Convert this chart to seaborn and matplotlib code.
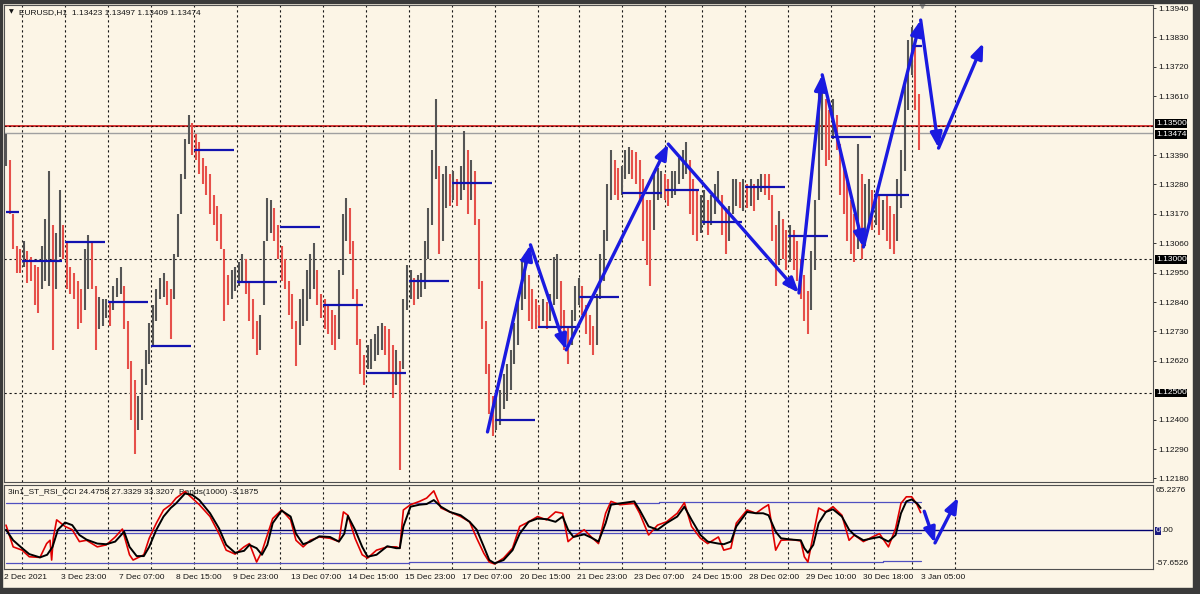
import matplotlib
matplotlib.use("Agg")
import matplotlib.pyplot as plt
from matplotlib.patches import Rectangle
import numpy as np
import seaborn as sns

# ---- price bars (2-hour bars), high / low in pips above BASE ----
BASE = 1.12
hi_pips = [147, 137, 117, 105, 104, 107, 103, 101, 98, 97, 105, 115,
           133, 113, 110, 126, 113, 106, 97, 95, 92, 89, 104, 109,
           107, 90, 86, 85, 85, 84, 90, 93, 97, 90, 77, 62,
           55, 49, 59, 66, 76, 83, 89, 93, 95, 92, 89, 102,
           117, 132, 145, 154, 151, 147, 144, 138, 135, 132, 124, 120,
           117, 104, 94, 96, 97, 99, 102, 100, 92, 85, 77, 79,
           107, 123, 122, 119, 113, 105, 100, 92, 87, 77, 85, 89,
           96, 102, 106, 96, 87, 85, 83, 81, 79, 96, 117, 123,
           119, 107, 89, 70, 64, 68, 70, 72, 75, 76, 75, 74,
           68, 66, 62, 85, 98, 96, 93, 94, 95, 107, 119, 141,
           160, 135, 132, 135, 132, 133, 130, 135, 148, 141, 137, 133,
           115, 92, 77, 61, 49, 49, 51, 57, 61, 66, 76, 85,
           100, 102, 94, 89, 85, 83, 85, 84, 87, 101, 102, 92,
           81, 75, 81, 90, 93, 90, 83, 79, 75, 87, 102, 111,
           128, 141, 137, 134, 135, 141, 142, 141, 140, 137, 130, 122,
           122, 132, 134, 133, 132, 130, 133, 133, 138, 141, 144, 137,
           130, 126, 124, 126, 122, 124, 128, 133, 124, 119, 120, 130,
           130, 129, 130, 128, 130, 128, 130, 132, 132, 132, 124, 113,
           118, 115, 111, 113, 111, 107, 100, 94, 88, 103, 122, 163,
           168, 160, 156, 160, 154, 143, 135, 130, 122, 117, 143, 132,
           128, 130, 126, 124, 124, 122, 124, 120, 117, 130, 141, 167,
           182, 187, 180, 162]
lo_pips = [135, 117, 104, 95, 95, 97, 91, 92, 83, 80, 89, 92,
           90, 66, 89, 101, 100, 89, 87, 85, 74, 76, 81, 89,
           89, 66, 74, 75, 78, 75, 81, 86, 87, 74, 59, 40,
           27, 36, 40, 53, 61, 68, 77, 85, 86, 83, 70, 85,
           101, 117, 130, 143, 139, 137, 132, 128, 124, 117, 113, 107,
           104, 77, 83, 85, 88, 90, 92, 87, 77, 70, 64, 66,
           83, 107, 110, 107, 100, 92, 89, 79, 74, 60, 68, 75,
           77, 85, 89, 83, 78, 74, 72, 68, 66, 70, 94, 107,
           102, 85, 68, 57, 53, 59, 59, 62, 64, 66, 64, 57,
           48, 53, 21, 59, 81, 85, 83, 85, 86, 89, 100, 113,
           130, 102, 107, 119, 120, 122, 120, 122, 126, 117, 122, 113,
           89, 74, 57, 42, 34, 36, 38, 44, 47, 51, 61, 68,
           81, 85, 77, 74, 74, 75, 77, 74, 77, 83, 85, 74,
           66, 61, 68, 77, 83, 79, 72, 68, 64, 68, 85, 92,
           107, 122, 124, 122, 124, 130, 132, 130, 128, 122, 107, 98,
           90, 111, 122, 123, 122, 120, 123, 124, 128, 130, 132, 117,
           109, 107, 110, 113, 109, 113, 117, 122, 109, 102, 107, 117,
           120, 119, 118, 119, 120, 118, 122, 125, 124, 122, 107, 90,
           98, 100, 96, 99, 96, 92, 85, 77, 72, 81, 96, 122,
           141, 135, 137, 145, 141, 124, 117, 107, 102, 99, 104, 100,
           105, 113, 111, 113, 109, 111, 107, 104, 102, 107, 119, 133,
           156, 169, 156, 141]

# day separators (hour index) and daily open lines
grid_h = [9, 33, 57, 81, 105, 129, 153, 177, 201, 225, 249, 273, 297, 320,
          344, 368, 389, 413, 437, 461, 485, 506, 530]
day_open = [1.13178, 1.12994, 1.13064, 1.12841, 1.12676, 1.13410, 1.12916,
            1.13121, 1.12829, 1.12576, 1.12920, 1.13287, 1.12399, 1.12747,
            1.12860, 1.13247, 1.13259, 1.13139, 1.13271, 1.13087, 1.13459,
            1.13241, 1.13799]

# hand drawn zigzag arrows
zz_h = [269, 293, 313, 370, 443, 456, 479, 511, 521, 546]
zz_p = [1.12354, 1.13054, 1.12661, 1.13431, 1.12874, 1.13690, 1.13046,
        1.13895, 1.13416, 1.13809]
zz2_h = [513, 519, 532]
zz2_v = [29, -19, 50]

# indicator (3in1_ST_RSI_CCI)
blk_h = [0, 4, 9, 13, 19, 23, 26, 29, 33, 37, 41, 45, 51, 56, 61, 66, 69, 73,
         77, 80, 84, 88, 92, 95, 100, 104, 108, 114, 119, 123, 128, 133, 136,
         140, 143, 146, 149, 154, 159, 162, 166, 170, 175, 181, 186, 189, 191,
         195, 199, 202, 207, 213, 218,
         220, 222, 226, 231, 235, 239, 243, 248, 254, 259, 263, 267, 270, 273,
         278, 283, 287, 292, 297, 302, 307, 311, 314, 317, 323, 327, 331, 335,
         338, 343, 351, 354, 359, 364, 369, 375, 379, 383, 388, 392, 398, 401,
         405, 408, 414, 419, 423, 426, 430, 433, 439, 444,
         446, 448, 451, 454, 458, 462, 467, 471, 474, 479, 484, 488, 493, 497,
         500, 503, 506, 509, 511]
blk_v = [1, -15, -27, -36, -41, -37, -25, 1, 12, 8, -7, -14, -20, -21, -17, -2,
         -25, -39, -39, -25, 1, 21, 34, 41, 56, 54, 46, 26, 3, -22, -34, -31,
         -22, -27, -37, -22, 11, 30, 21, -5, -21, -17, -9, -10, -17, -5, 22, 1,
         -25, -40, -37, -24, -27,
         -27, 6, 36, 39, 40, 46, 36, 28, 23, 13, 1, -25, -45, -50, -45, -30, -5,
         13, 18, 17, 13, 21, 1, -10, -6, -11, -17, 11, 39, 41, 44, 31, 6, 1, 11,
         21, 36, 16, -7, -17, -20, -21, -17, 6, 28, 26, 26, 23, -2, -12, -14, -15,
         -27, -34, -22, 11, 28, 32, 21, 1, -7, -15, -12, -10, -17, -7, 26, 44,
         47, 41, 34]
red_h = [0, 4, 9, 13, 19, 22.7, 24.6, 25.5, 26.4, 28.3, 33, 37, 41, 45, 51, 56,
         61, 65, 69, 71, 77, 80, 84, 88, 92, 95, 100, 104, 108, 114, 119, 123,
         128, 133, 136, 140, 143, 146, 149, 154, 159, 162, 166, 170, 175, 181,
         186, 188.5, 191, 195, 199, 202, 207, 213, 218,
         220, 222, 226, 231, 235, 239, 243, 248, 254, 259, 263, 267, 270, 273,
         278, 283, 287, 292, 297, 302, 307, 311, 314, 317, 323, 327, 331, 335,
         338, 343, 351, 354, 359, 364, 369, 375, 379, 383, 388, 392, 398, 401,
         405, 408, 414, 419, 423, 426, 430, 433, 439, 444,
         446, 448, 451, 454, 458, 462, 467, 471, 474, 479, 484, 488, 493, 497,
         500, 503, 506, 509, 511]
red_v = [8, -25, -30, -40, -41, -20, -15, -45, -12, 16, 6, 1, -17, -15, -25,
         -22, -10, 2, -37, -45, -37, -12, 11, 31, 39, 49, 59, 49, 39, 21, -5,
         -30, -36, -25, -20, -48, -32, -7, 18, 31, 16, -15, -25, -15, -10, -12,
         -17, 28, 23, -12, -37, -42, -30, -25, -25,
         -27, 31, 39, 44, 49, 60, 34, 28, 21, 13, -12, -35, -48, -51, -42, -27,
         6, 13, 21, 16, 28, 26, -17, -10, 1, -10, -20, 26, 44, 39, 41, 26, -7,
         8, 13, 26, 42, 6, -12, -20, -10, -30, -27, 11, 31, 26, 34, 39, -30,
         -15, -14, -16,
         -40, -48, -7, 34, 28, 36, 23, -15, -7, -17, -10, -5, -25, 3, 41, 51,
         51, 39, 27]
band_h = [0, 225, 365, 490, 511]
band_up = [41, 41, 43.5, 43.5, 43.5]
band_mid = [-4, -4, -4, -4, -4]
band_lo = [-49, -47.5, -47.5, -46, -46]

date_labels = ["2 Dec 2021", "3 Dec 23:00", "7 Dec 07:00", "8 Dec 15:00",
               "9 Dec 23:00", "13 Dec 07:00", "14 Dec 15:00", "15 Dec 23:00",
               "17 Dec 07:00", "20 Dec 15:00", "21 Dec 23:00", "23 Dec 07:00",
               "24 Dec 15:00", "28 Dec 02:00", "29 Dec 10:00", "30 Dec 18:00",
               "3 Jan 05:00"]
price_ticks = [1.1394, 1.1383, 1.1372, 1.1361, 1.1339, 1.1328, 1.1317, 1.1306,
               1.1295, 1.1284, 1.1273, 1.1262, 1.1240, 1.1229, 1.1218]
boxed_levels = [1.13500, 1.13474, 1.13000, 1.12500]

BG = "#FCF5E6"
INK = "#151515"

sns.set_style("white")
plt.rcParams["font.family"] = ["Liberation Sans", "DejaVu Sans"]

fig = plt.figure(figsize=(12, 5.94), dpi=100, facecolor=BG)
ax = fig.add_axes([4 / 1200, 1 - 482 / 594, 1149 / 1200, 477 / 594], facecolor=BG)
ax2 = fig.add_axes([4 / 1200, 1 - 569 / 594, 1149 / 1200, 84 / 594], facecolor=BG)
XLIM = (-1.12, 640.8)

# ---- main price panel ----
hi = BASE + np.array(hi_pips) / 1e4
lo = BASE + np.array(lo_pips) / 1e4
hours = np.arange(len(hi)) * 2
mid = (hi + lo) / 2
colors = ["#555555"] + ["#E6504A" if mid[i] < mid[i - 1] else "#555555"
                        for i in range(1, len(mid))]

for g in grid_h:
    ax.axvline(g, color=INK, lw=0.8, ls=(0, (2, 2.5)), zorder=1)
    ax2.axvline(g, color=INK, lw=0.8, ls=(0, (2, 2.5)), zorder=1)
for lvl in (1.130, 1.125):
    ax.axhline(lvl, color=INK, lw=0.8, ls=(0, (2, 2.5)), zorder=1)
ax.axhline(1.13474, color="#A0A0A0", lw=1.0, zorder=1)
ax.axhline(1.135, color="#D01818", lw=1.2, zorder=1)
ax.axhline(1.135, color="#400000", lw=0.8, ls=(0, (2, 2)), zorder=1)

ax.vlines(hours, lo, hi, colors=colors, lw=1.5, zorder=2)

starts = [0] + grid_h[:-1]
ends = [grid_h[i] - 1.7 for i in range(len(grid_h) - 1)] + [512]
ax.hlines(day_open, starts, ends, color="#1212B0", lw=1.6, zorder=3)

arrow_kw = dict(arrowstyle="-|>,head_length=0.9,head_width=0.35",
                color="#1A1AE0", lw=2.4, shrinkA=0, shrinkB=0)
for i in range(len(zz_h) - 1):
    ax.annotate("", xy=(zz_h[i + 1], zz_p[i + 1]), xytext=(zz_h[i], zz_p[i]),
                arrowprops=arrow_kw, annotation_clip=False, zorder=4)

ax.plot([511.6], [1.13951], marker="v", ms=5, color="#8C8C8C", clip_on=False)

ax.set_xlim(*XLIM)
ax.set_ylim(1.121667, 1.139513)
ax.set_xticks([])
ax.yaxis.tick_right()
ax.set_yticks(price_ticks)
ax.set_yticklabels([f"{t:.5f}" for t in price_ticks])
ax.tick_params(axis="y", labelsize=6, length=2.5, width=0.6, pad=1.5,
               colors=INK)

for lvl, ypos in zip(boxed_levels, [1.13508, 1.13466, 1.13000, 1.12500]):
    ax.text(1.0025, ypos, f"{lvl:.5f}", transform=ax.get_yaxis_transform(),
            ha="left", va="center", fontsize=6, color="white",
            bbox=dict(boxstyle="square,pad=0.1", fc="black", ec="none"))

ax.text(0.0045, 0.985, "\u25BC", transform=ax.transAxes, fontsize=4.5,
        color=INK, va="center", ha="left", family=["DejaVu Sans"])
ax.text(0.013, 0.985, "EURUSD,H1  1.13423 1.13497 1.13409 1.13474",
        transform=ax.transAxes, fontsize=6, color=INK, va="center", ha="left")

# ---- indicator panel ----
ax2.axhline(0, color="#000070", lw=1.0, zorder=2)
for band in (band_up, band_mid, band_lo):
    sns.lineplot(x=band_h, y=band, ax=ax2, color="#5050C0", lw=0.9,
                 drawstyle="steps-post", estimator=None, sort=False, zorder=2)
sns.lineplot(x=red_h, y=red_v, ax=ax2, color="#E00000", lw=1.2,
             estimator=None, sort=False, zorder=3)
sns.lineplot(x=blk_h, y=blk_v, ax=ax2, color="black", lw=1.4,
             estimator=None, sort=False, zorder=4)
for i in range(len(zz2_h) - 1):
    ax2.annotate("", xy=(zz2_h[i + 1], zz2_v[i + 1]),
                 xytext=(zz2_h[i], zz2_v[i]), arrowprops=arrow_kw,
                 annotation_clip=False, zorder=5)

ax2.set_xlim(*XLIM)
ax2.set_ylim(-58.6, 68.9)
ax2.set_xticks([])
ax2.set_yticks([])
ax2.set_xlabel("")
ax2.set_ylabel("")

ytf = ax2.get_yaxis_transform()
ax2.text(1.0025, 59.8, "65.2276", transform=ytf, fontsize=6, color=INK,
         va="center", ha="left")
ax2.text(1.0025, -51.0, "-57.6526", transform=ytf, fontsize=6, color=INK,
         va="center", ha="left")
ax2.text(1.0025, -0.9, "0", transform=ytf, fontsize=6, color="white",
         va="center", ha="left",
         bbox=dict(boxstyle="square,pad=0.1", fc="#1A1A80", ec="none"))
ax2.text(1.0068, -0.9, ".00", transform=ytf, fontsize=6, color=INK,
         va="center", ha="left")
ax2.text(0.0035, 0.915,
         "3in1_ST_RSI_CCI 24.4758 27.3329 33.3207  Bands(1000) -3.1875",
         transform=ax2.transAxes, fontsize=6, color=INK, va="center",
         ha="left", zorder=1)

xtf = ax2.get_xaxis_transform()
for i, lab in enumerate(date_labels):
    ax2.text(i * 32 - 1, -0.107, lab, transform=xtf, fontsize=6, color=INK,
             ha="left", va="center")

for a in (ax, ax2):
    for sp in a.spines.values():
        sp.set_color("#505050")
        sp.set_linewidth(0.8)

# dark window frame
frame = "#3A3A3A"
for rect in [(0, 1 - 3 / 594, 1, 3 / 594), (0, 0, 1, 6 / 594),
             (0, 0, 2 / 1200, 1), (1193 / 1200, 0, 7 / 1200, 1)]:
    fig.patches.append(Rectangle(rect[:2], rect[2], rect[3],
                                 transform=fig.transFigure, color=frame,
                                 zorder=0))

fig.savefig("out.png", dpi=100, facecolor=BG)
